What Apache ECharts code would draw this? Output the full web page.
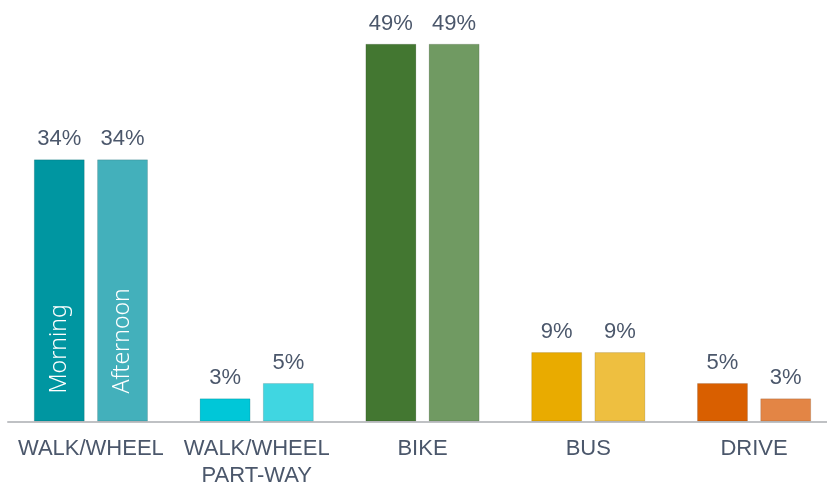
<!DOCTYPE html>
<html lang="en">
<head>
<meta charset="UTF-8">
<title>Travel mode</title>
<script src="https://cdn.jsdelivr.net/npm/echarts@6/dist/echarts.min.js"></script>
<style>
  html, body { margin: 0; padding: 0; background: #fff; }
  #chart { width: 827px; height: 487px; }
</style>
</head>
<body>
<div id="chart"></div>
<script>
// data
var categories = ['WALK/WHEEL', 'WALK/WHEEL\nPART-WAY', 'BIKE', 'BUS', 'DRIVE'];
var morning = [34, 3, 49, 9, 5];
var afternoon = [34, 5, 49, 9, 3];
var seriesNames = ['Morning', 'Afternoon'];
var morningColors = ['#0096A1', '#00C7D8', '#437731', '#E9AB00', '#D95F00'];
var afternoonColors = ['#43B0BB', '#40D6E1', '#709A62', '#EEBF40', '#E38545'];

var textColor = '#4b576b';

function barItems(values, colors) {
  return values.map(function (v, i) {
    return { value: v, itemStyle: { color: colors[i] } };
  });
}

// transparent overlay that only carries the name written inside the first bar
function nameItems(values) {
  return values.map(function (v, i) {
    return i === 0 ? { value: v, label: { show: true } } : { value: v };
  });
}

var barStyle = {
  barWidth: 51,
  barGap: '24%',
  itemStyle: { borderColor: 'rgba(0,0,0,0.12)', borderWidth: 1 },
  label: {
    show: true,
    position: 'top',
    distance: 9,
    formatter: '{c}%',
    color: textColor,
    fontSize: 22,
    fontFamily: 'Liberation Sans, Arial, sans-serif'
  }
};

var nameLabel = {
  show: false,
  position: 'insideBottom',
  rotate: 90,
  align: 'left',
  verticalAlign: 'middle',
  distance: 28,
  color: '#ffffff',
  fontSize: 23,
  fontWeight: 300,
  fontFamily: 'Noto Sans, Open Sans, sans-serif',
  formatter: '{a}'
};

var chart = echarts.init(document.getElementById('chart'));

var option = {
  animation: false,
  grid: { left: 8, width: 829, top: 36, height: 385.5, outerBoundsMode: 'none', containLabel: false },
  xAxis: [{
    type: 'category',
    data: categories,
    axisLine: { lineStyle: { color: '#bfc1c4', width: 2 } },
    axisTick: { show: false },
    axisLabel: {
      color: textColor,
      fontSize: 22,
      lineHeight: 27,
      margin: 14,
      interval: 0,
      fontFamily: 'Liberation Sans, Arial, sans-serif'
    }
  }, {
    type: 'category',
    data: categories,
    show: false
  }],
  yAxis: {
    type: 'value',
    min: 0,
    max: 50,
    show: false,
    splitLine: { show: false }
  },
  series: [{
    name: seriesNames[0],
    type: 'bar',
    data: barItems(morning, morningColors),
    barWidth: barStyle.barWidth,
    barGap: barStyle.barGap,
    itemStyle: barStyle.itemStyle,
    label: barStyle.label
  }, {
    name: seriesNames[1],
    type: 'bar',
    data: barItems(afternoon, afternoonColors),
    barWidth: barStyle.barWidth,
    barGap: barStyle.barGap,
    itemStyle: barStyle.itemStyle,
    label: barStyle.label
  }, {
    name: seriesNames[0],
    type: 'bar',
    xAxisIndex: 1,
    data: nameItems(morning),
    barWidth: barStyle.barWidth,
    barGap: barStyle.barGap,
    itemStyle: { color: 'transparent' },
    label: nameLabel,
    silent: true
  }, {
    name: seriesNames[1],
    type: 'bar',
    xAxisIndex: 1,
    data: nameItems(afternoon),
    barWidth: barStyle.barWidth,
    barGap: barStyle.barGap,
    itemStyle: { color: 'transparent' },
    label: nameLabel,
    silent: true
  }]
};

chart.setOption(option);
</script>
</body>
</html>
